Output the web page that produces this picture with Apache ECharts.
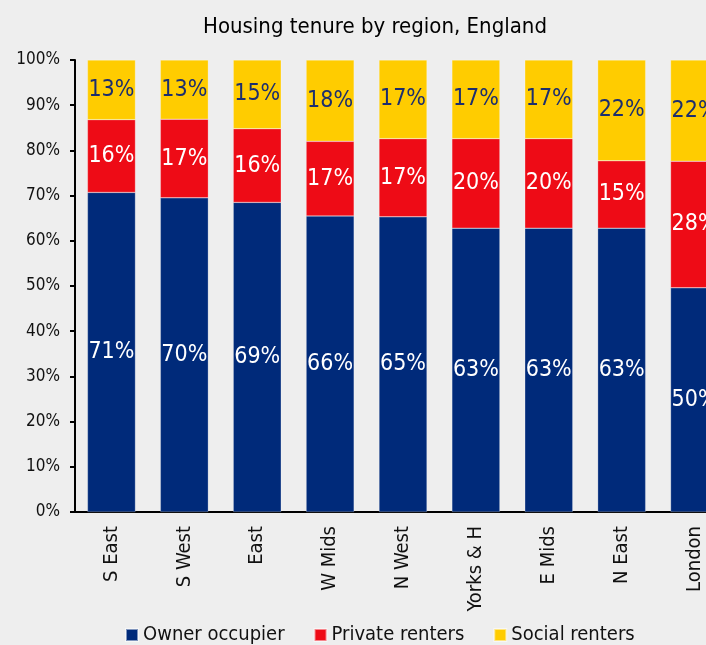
<!DOCTYPE html>
<html>
<head>
<meta charset="utf-8">
<script src="https://cdn.jsdelivr.net/npm/echarts@6/dist/echarts.min.js"></script>
<style>
  html, body { margin: 0; padding: 0; background: #eeeeee; }
  #chart { width: 706px; height: 645px; }
</style>
</head>
<body>
<div id="chart"></div>
<script>
// regions, as ordered in the chart
const regions = ['S East', 'S West', 'East', 'W Mids', 'N West', 'Yorks & H', 'E Mids', 'N East', 'London']

// share of households (%)
const owner = [70.7, 69.5, 68.5, 65.5, 65.3, 62.8, 62.8, 62.8, 49.6]
const privateRent = [16.1, 17.4, 16.3, 16.5, 17.3, 19.8, 19.8, 14.9, 28.0]
const socialRent = [13.2, 13.1, 15.2, 18.0, 17.4, 17.4, 17.4, 22.3, 22.4]

const yTicks = [0, 10, 20, 30, 40, 50, 60, 70, 80, 90, 100]

const FONT = "'DejaVu Sans Condensed', 'DejaVu Sans', sans-serif"

const chart = echarts.init(document.getElementById('chart'), null, { renderer: 'canvas' })

const pct = p => Math.round(p.value) + '%'

function barSeries(name, data, color, labelColor) {
    return {
        name: name,
        type: 'bar',
        stack: 'tenure',
        data: data,
        barWidth: 48,
        itemStyle: { color: color, borderColor: 'rgba(255,255,255,0.5)', borderWidth: 0.5 },
        label: {
            show: true,
            position: 'inside',
            formatter: pct,
            color: labelColor,
            fontFamily: FONT,
            fontSize: 23
        }
    }
}

chart.setOption({
    backgroundColor: '#eeeeee',
    animation: false,
    title: {
        text: 'Housing tenure by region, England',
        left: 198,
        top: 11,
        textStyle: { fontFamily: FONT, fontSize: 22, fontWeight: 'normal', color: '#000' }
    },
    legend: {
        top: 620,
        left: 120,
        itemWidth: 12,
        itemHeight: 12,
        itemGap: 29,
        icon: 'rect',
        textStyle: { fontFamily: FONT, fontSize: 20, color: '#111' },
        data: ['Owner occupier', 'Private renters', 'Social renters']
    },
    // the last bar runs off the right edge, as in the source
    grid: { left: 75, width: 656, top: 60, bottom: 133, outerBoundsMode: 'none', containLabel: false },
    xAxis: {
        type: 'category',
        data: regions,
        axisLine: { lineStyle: { color: '#000', width: 2 } },
        axisTick: { show: false },
        axisLabel: {
            rotate: 90,
            margin: 14,
            fontFamily: FONT,
            fontSize: 20,
            color: '#111'
        }
    },
    yAxis: {
        type: 'value',
        min: yTicks[0],
        max: yTicks[yTicks.length - 1],
        interval: 10,
        splitLine: { show: false },
        axisLine: { show: true, lineStyle: { color: '#000', width: 2 } },
        axisTick: { show: true, length: 5, lineStyle: { color: '#000', width: 2 } },
        axisLabel: {
            formatter: '{value}%',
            margin: 15,
            fontFamily: FONT,
            fontSize: 17,
            color: '#111'
        }
    },
    series: [
        barSeries('Owner occupier', owner, '#002a7a', '#ffffff'),
        barSeries('Private renters', privateRent, '#ee0b16', '#ffffff'),
        barSeries('Social renters', socialRent, '#ffcc00', '#1c2e6e')
    ]
})
</script>
</body>
</html>
